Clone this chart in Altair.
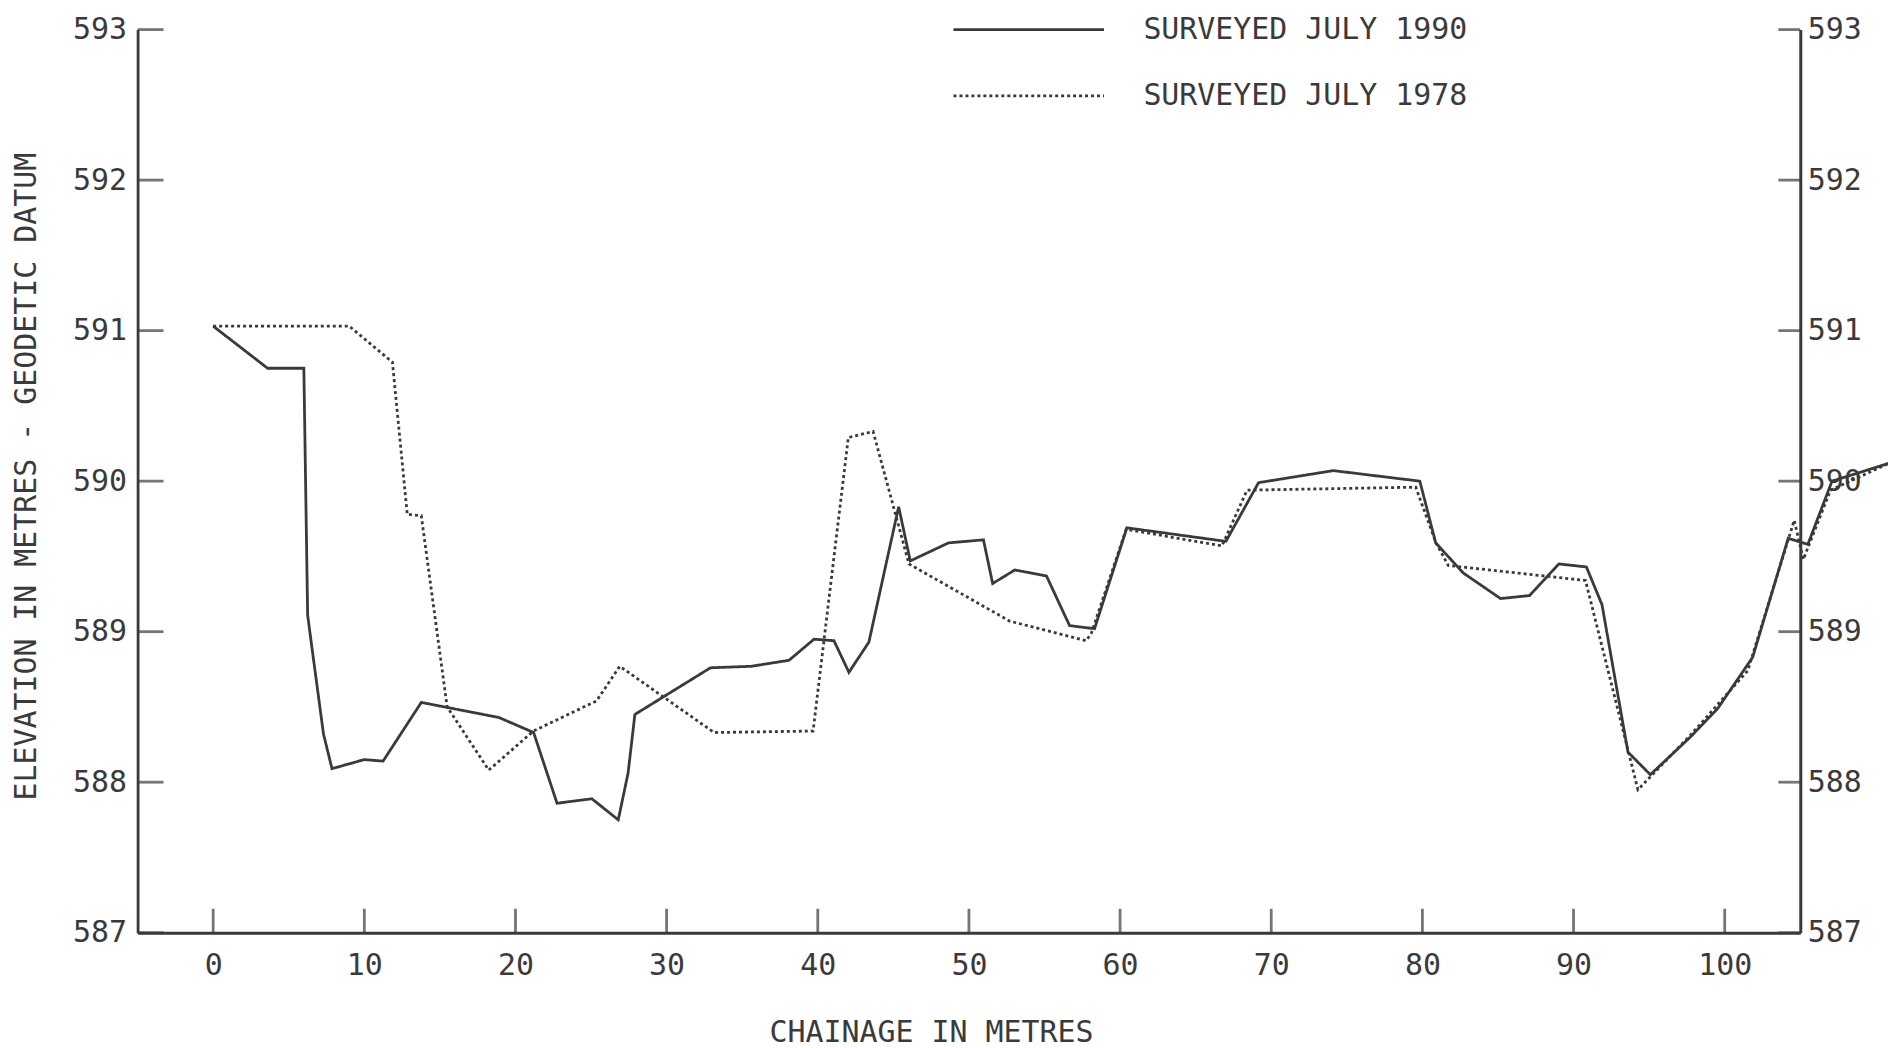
import altair as alt
import pandas as pd

# ---- data ----
series_names = ["SURVEYED JULY 1990", "SURVEYED JULY 1978"]

x_1990 = [0.0, 3.6, 6.0, 6.25, 6.5, 7.3, 7.86, 10.0, 11.24, 13.77, 18.9, 21.2, 22.75,
          25.05, 26.8, 27.45, 27.9, 32.9, 35.6, 38.1, 39.75, 41.07, 42.06, 43.38, 45.35,
          46.12, 48.65, 50.96, 51.57, 53.04, 55.13, 56.66, 58.31, 60.45, 67.0, 69.16,
          74.11, 79.83, 80.88, 82.7, 85.17, 87.09, 89.03, 90.85, 91.88, 93.6, 95.08,
          97.73, 99.54, 101.85, 104.2, 105.5, 107.1, 110.9]
y_1990 = [591.03, 590.75, 590.75, 589.11, 588.92, 588.32, 588.09, 588.15, 588.14, 588.53,
          588.43, 588.33, 587.86, 587.89, 587.75, 588.06, 588.45, 588.76, 588.77, 588.81,
          588.95, 588.94, 588.73, 588.93, 589.83, 589.47, 589.59, 589.61, 589.32, 589.41,
          589.37, 589.04, 589.02, 589.69, 589.60, 589.99, 590.07, 590.00, 589.59, 589.39,
          589.22, 589.24, 589.45, 589.43, 589.18, 588.20, 588.05, 588.30, 588.49, 588.83,
          589.62, 589.58, 590.00, 590.12]

x_1978 = [0.0, 9.0, 11.86, 12.84, 13.77, 15.48, 18.23, 21.19, 25.36, 26.9, 33.14, 39.69,
          42.02, 43.66, 46.03, 52.7, 57.76, 58.1, 60.4, 66.74, 68.4, 79.56, 80.9, 81.71,
          90.79, 94.26, 97.8, 101.52, 104.6, 105.2, 107.0, 110.9]
y_1978 = [591.03, 591.03, 590.79, 589.78, 589.77, 588.50, 588.08, 588.34, 588.54, 588.77,
          588.33, 588.34, 590.29, 590.33, 589.45, 589.07, 588.94, 588.99, 589.68, 589.57,
          589.94, 589.96, 589.59, 589.44, 589.34, 587.95, 588.32, 588.74, 589.74, 589.48,
          589.94, 590.12]

x_ticks = [0, 10, 20, 30, 40, 50, 60, 70, 80, 90, 100]
y_ticks = [587, 588, 589, 590, 591, 592, 593]
x_domain = [-5, 105]
y_domain = [587, 593]

rows = []
for name, xs, ys in zip(series_names, [x_1990, x_1978], [y_1990, y_1978]):
    for i, (a, b) in enumerate(zip(xs, ys)):
        rows.append({"chainage": a, "elevation": b, "survey": name, "idx": i})
df = pd.DataFrame(rows)

INK = "#3a3a3a"
FONT = "DejaVu Sans Mono"
FS = 30

xscale = alt.Scale(domain=x_domain, nice=False, zero=False)
yscale = alt.Scale(domain=y_domain, nice=False, zero=False)

lines = alt.Chart(df).mark_line(color=INK, strokeWidth=2.8).encode(
    x=alt.X("chainage:Q", scale=xscale,
            axis=alt.Axis(values=x_ticks, format="d", ticks=False, grid=False,
                          domainColor=INK, domainWidth=3, labelFont=FONT,
                          labelFontSize=FS, labelColor=INK, labelPadding=18,
                          labelOverlap=False, labelFlush=False,
                          title="CHAINAGE IN METRES", titleFont=FONT, titleFontSize=FS,
                          titleFontWeight="normal", titleColor=INK, titleX=796,
                          titleY=109, titleAlign="center", titleBaseline="alphabetic")),
    y=alt.Y("elevation:Q", scale=yscale,
            axis=alt.Axis(values=y_ticks, format="d", ticks=False, grid=False,
                          domainColor=INK, domainWidth=2.8, labelFont=FONT,
                          labelFontSize=FS, labelColor=INK, labelPadding=11,
                          labelOverlap=False,
                          title="ELEVATION IN METRES - GEODETIC DATUM", titleFont=FONT,
                          titleFontSize=FS, titleFontWeight="normal", titleColor=INK,
                          titleAngle=270, titleX=-111, titleY=448, titleAlign="center",
                          titleBaseline="middle")),
    strokeDash=alt.StrokeDash("survey:N",
                              scale=alt.Scale(domain=series_names, range=[[1, 0], [3, 3]]),
                              legend=alt.Legend(title=None, orient="none", legendX=817,
                                                legendY=-15, symbolType="stroke",
                                                symbolSize=22801, symbolStrokeWidth=2.8,
                                                symbolStrokeColor=INK, labelFont=FONT,
                                                labelFontSize=FS, labelColor=INK,
                                                labelOffset=38, labelLimit=800,
                                                clipHeight=30, rowPadding=36.5, padding=0,
                                                direction="vertical")),
    order="idx:Q",
)

xt = pd.DataFrame({"v": x_ticks})
yt = pd.DataFrame({"v": y_ticks})

bottom_ticks = alt.Chart(xt).mark_tick(orient="vertical", size=24, thickness=2.8,
                                       yOffset=-12, color=INK).encode(
    x=alt.X("v:Q", scale=xscale, axis=None),
    y=alt.Y(datum=y_domain[0], type="quantitative", scale=yscale, axis=None),
)

left_ticks = alt.Chart(yt).mark_tick(orient="horizontal", size=26, thickness=2.8,
                                     xOffset=13, color=INK).encode(
    x=alt.X(datum=x_domain[0], type="quantitative", scale=xscale, axis=None),
    y=alt.Y("v:Q", scale=yscale, axis=None),
)

right_ticks = alt.Chart(yt).mark_tick(orient="horizontal", size=22, thickness=2.8,
                                      xOffset=-11, color=INK).encode(
    x=alt.X(datum=x_domain[1], type="quantitative", scale=xscale, axis=None),
    y=alt.Y("v:Q", scale=yscale,
            axis=alt.Axis(orient="right", values=y_ticks, format="d", ticks=False,
                          grid=False, domainColor=INK, domainWidth=3, labelFont=FONT,
                          labelFontSize=FS, labelColor=INK, labelPadding=7,
                          labelOverlap=False, title=None)),
)

chart = alt.layer(lines, bottom_ticks, left_ticks, right_ticks).resolve_axis(
    x="independent", y="independent"
).properties(
    width=1668, height=906,
    autosize=alt.AutoSizeParams(type="none"),
    padding={"left": 130, "top": 20, "right": 88, "bottom": 116},
    background="white",
).configure_view(stroke=None)

chart.save("out.html", embed_options={"renderer": "svg", "actions": False})
